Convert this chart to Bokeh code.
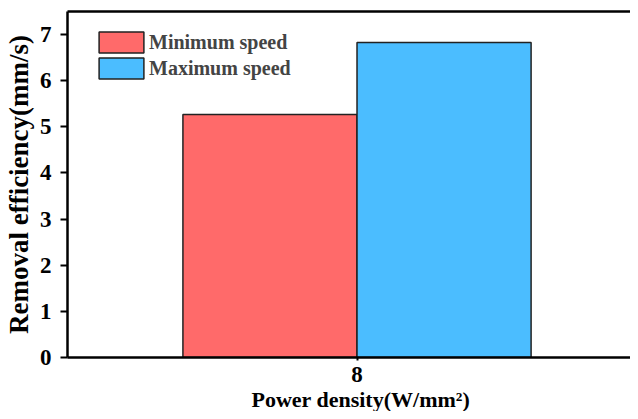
from bokeh.plotting import figure
from bokeh.models import ColumnDataSource, Legend, LegendItem, LinearAxis, FixedTicker, Range1d, Title
from bokeh.embed import file_html
from bokeh.resources import INLINE

categories = ["8"]
series = ["Minimum speed", "Maximum speed"]
min_speed = [5.27]
max_speed = [6.83]
colors = ["#FF6A6A", "#4BBDFF"]
y_ticks = [0, 1, 2, 3, 4, 5, 6, 7]
x_title = "Power density(W/mm²)"
y_title = "Removal efficiency(mm/s)"

FONT = "Liberation Serif"

p = figure(width=630, height=411, output_backend="svg", toolbar_location=None,
           x_range=Range1d(-1.663, 1.571), y_range=Range1d(0, 7.5),
           min_border_left=64, min_border_right=0, min_border_top=11, min_border_bottom=53)
p.outline_line_color = None
p.xgrid.visible = False
p.ygrid.visible = False
p.background_fill_color = "white"
p.border_fill_color = "white"

idx = list(range(len(categories)))
values = [min_speed, max_speed]
renderers = []
for k, (name, vals) in enumerate(zip(series, values)):
    off = -0.5 if k == 0 else 0.5
    src = ColumnDataSource(dict(x=[i + off for i in idx], top=vals))
    r = p.vbar(x="x", top="top", width=1.0, bottom=0, source=src,
               fill_color=colors[k], line_color="#222222", line_width=1.5)
    renderers.append(r)

# axes
xa = p.xaxis[0]
xa.ticker = FixedTicker(ticks=idx)
xa.major_label_overrides = {i: c for i, c in zip(idx, categories)}
xa.axis_line_width = 2.5
xa.major_tick_line_width = 2
xa.major_tick_out = 3
xa.major_tick_in = 0
xa.minor_tick_line_color = None
xa.major_label_text_font = FONT
xa.major_label_text_font_style = "bold"
xa.major_label_text_font_size = "23px"
xa.major_label_standoff = 6
xa.major_label_text_color = "black"

ya = p.yaxis[0]
ya.ticker = FixedTicker(ticks=y_ticks)
ya.axis_line_width = 2.5
ya.major_tick_line_width = 2
ya.major_tick_out = 7
ya.major_tick_in = 0
ya.minor_tick_line_color = None
ya.major_label_text_font = FONT
ya.major_label_text_font_style = "bold"
ya.major_label_text_font_size = "23px"
ya.major_label_standoff = 9
ya.major_label_text_color = "black"
ya.axis_label = y_title
ya.axis_label_text_font = FONT
ya.axis_label_text_font_style = "bold"
ya.axis_label_text_font_size = "27px"
ya.axis_label_standoff = 3
ya.axis_label_text_color = "black"

top = LinearAxis(ticker=FixedTicker(ticks=[]), major_label_text_font_size="0px",
                 axis_line_width=2.5, major_tick_line_color=None, minor_tick_line_color=None)
p.add_layout(top, "above")

xt = Title(text=x_title, align="left", offset=184, standoff=0,
           text_font=FONT, text_font_style="bold", text_font_size="22px", text_color="black")
p.add_layout(xt, "below")

legend = Legend(items=[LegendItem(label=s, renderers=[r]) for s, r in zip(series, renderers)],
                location=(26, 276), orientation="vertical", padding=0, margin=0,
                spacing=0, glyph_width=56, glyph_height=26, label_standoff=0,
                label_text_font=FONT, label_text_font_style="bold", label_text_font_size="20px",
                border_line_color=None, background_fill_alpha=0)
p.add_layout(legend, "center")

open("out.html", "w").write(file_html(p, INLINE))
